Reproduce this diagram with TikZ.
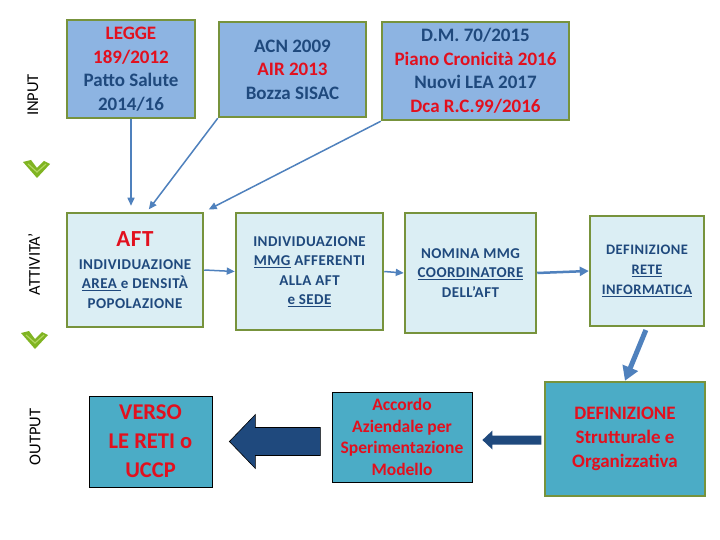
\documentclass[tikz,border=0pt]{standalone}
\usepackage{fontspec}
\setmainfont{Carlito}
\definecolor{boxgreen}{RGB}{119,147,60}
\definecolor{topblue}{RGB}{141,180,226}
\definecolor{paleblue}{RGB}{219,238,244}
\definecolor{tealblue}{RGB}{75,172,198}
\definecolor{linkblue}{RGB}{79,129,189}
\definecolor{navytxt}{RGB}{31,73,125}
\definecolor{redtxt}{RGB}{226,16,30}
\definecolor{chevgreen}{RGB}{128,180,34}
\definecolor{chevlight}{RGB}{178,214,96}
\usetikzlibrary{arrows.meta, calc}

\begin{document}
\begin{tikzpicture}[x=1pt, y=-1pt,
  inbox/.style={draw=boxgreen, line width=2.5pt, fill=topblue, text=navytxt, align=center, inner sep=0pt, font=\bfseries\fontsize{19}{23.5}\selectfont},
  actbox/.style={draw=boxgreen, line width=2.5pt, fill=paleblue, text=navytxt, align=center, inner sep=0pt, font=\bfseries\addfontfeature{LetterSpace=3}\fontsize{15}{19.5}\selectfont},
  outbox/.style={draw=black, line width=0.8pt, fill=tealblue, text=redtxt, align=center, inner sep=0pt},
  sidelabel/.style={rotate=90, font=\fontsize{16.5}{20}\selectfont, inner sep=0pt},
  link/.style={draw=linkblue, line width=1.5pt, -{Triangle[length=8pt,width=7pt]}},
  blockarrow/.style={fill=navytxt}
]
  \useasboundingbox[fill=white] (0,0) rectangle (720,540);

  % side labels and chevrons
  \node[sidelabel] (input) at (33,95) {INPUT};
  \node[sidelabel] (attivita) at (34,264) {ATTIVITA’};
  \node[sidelabel] (output) at (35,437) {OUTPUT};
  \foreach \cx/\cy in {0/0, -2/171} {
    \fill[chevgreen, shift={(\cx,\cy)}] (23,162) -- (31,160) -- (37,168) -- (44,161) -- (50,164) -- (37,178) -- cycle;
    \draw[chevlight, line width=1.2pt, shift={(\cx,\cy)}] (28,164) -- (37,172) -- (46,164);
  }

  % input row
  \node[inbox, minimum width=128pt, minimum height=98pt] (legge) at (131,69) {\textcolor{redtxt}{LEGGE}\\ \textcolor{redtxt}{189/2012}\\ Patto Salute\\ 2014/16};
  \node[inbox, minimum width=147pt, minimum height=95pt] (acn) at (292.5,69.5) {ACN 2009\\ \textcolor{redtxt}{AIR 2013}\\ Bozza SISAC};
  \node[inbox, minimum width=187pt, minimum height=98pt] (dm) at (475.5,71) {D.M. 70/2015\\ \textcolor{redtxt}{Piano Cronicità 2016}\\ Nuovi LEA 2017\\ \textcolor{redtxt}{Dca R.C.99/2016}};

  % activity row
  \node[actbox, minimum width=136pt, minimum height=114pt] (aft) at (135,270) {{\fontsize{23}{27}\selectfont\textcolor{redtxt}{AFT}}\\[3pt] INDIVIDUAZIONE\\ \underline{AREA\ }e DENSITÀ\\ POPOLAZIONE};
  \node[actbox, minimum width=147pt, minimum height=117pt] (mmg) at (309.5,271.5) {INDIVIDUAZIONE\\ \underline{MMG} AFFERENTI\\ ALLA AFT\\ \underline{e SEDE}};
  \node[actbox, minimum width=131pt, minimum height=120pt] (nomina) at (470.5,273) {NOMINA MMG\\ \underline{COORDINATORE}\\ DELL’AFT};
  \node[actbox, minimum width=114pt, minimum height=110pt, font=\bfseries\addfontfeature{LetterSpace=3}\fontsize{14.5}{20}\selectfont] (rete) at (647,271) {DEFINIZIONE\\ \underline{RETE}\\ \underline{INFORMATICA}};

  % output row
  \node[outbox, minimum width=123pt, minimum height=91pt, font=\bfseries\fontsize{22.5}{29}\selectfont] (verso) at (150.5,441.5) {VERSO\\ LE RETI o\\ UCCP};
  \node[outbox, minimum width=140pt, minimum height=90pt, font=\bfseries\fontsize{17.5}{21.5}\selectfont] (accordo) at (402,437) {Accordo\\ Aziendale per\\ Sperimentazione\\ Modello};
  \node[outbox, draw=boxgreen, line width=2.5pt, minimum width=160pt, minimum height=114pt, font=\bfseries\fontsize{19}{24}\selectfont] (defstr) at (625,439) {DEFINIZIONE\\ Strutturale e\\ Organizzativa};

  % connectors
  \draw[link, shorten >=6pt] (legge.south) -- (legge.south |- aft.north);
  \draw[link, shorten >=3pt] (acn.south west) -- ($(aft.north)+(12,0)$);
  \draw[link, shorten >=5pt] (dm.south west) -- (aft.north east);
  \draw[link] (aft.east) -- (mmg.west);
  \draw[link] (mmg.east) -- (nomina.west);
  \draw[link, line width=2.5pt, -{Triangle[length=9pt,width=9pt]}] (nomina.east) -- (rete.west);
  \draw[link, line width=5pt, -{Triangle[length=14pt,width=16pt]}, shorten <=3pt] (rete.south) -- (defstr.north);

  % block arrows
  \coordinate (bigtip) at ($(verso.east)+(17,0)$);
  \draw[blockarrow, draw=black, line width=0.6pt] (bigtip) -- ++(26,-27) -- ++(0,13) -- ++(65,0) -- ++(0,28) -- ++(-65,0) -- ++(0,13) -- cycle;
  \coordinate (smalltip) at ($(accordo.east)+(10,3)$);
  \fill[blockarrow] (smalltip) -- ++(10,-9.5) -- ++(0,5) -- ++(49,0) -- ++(0,9) -- ++(-49,0) -- ++(0,5) -- cycle;
\end{tikzpicture}
\end{document}
